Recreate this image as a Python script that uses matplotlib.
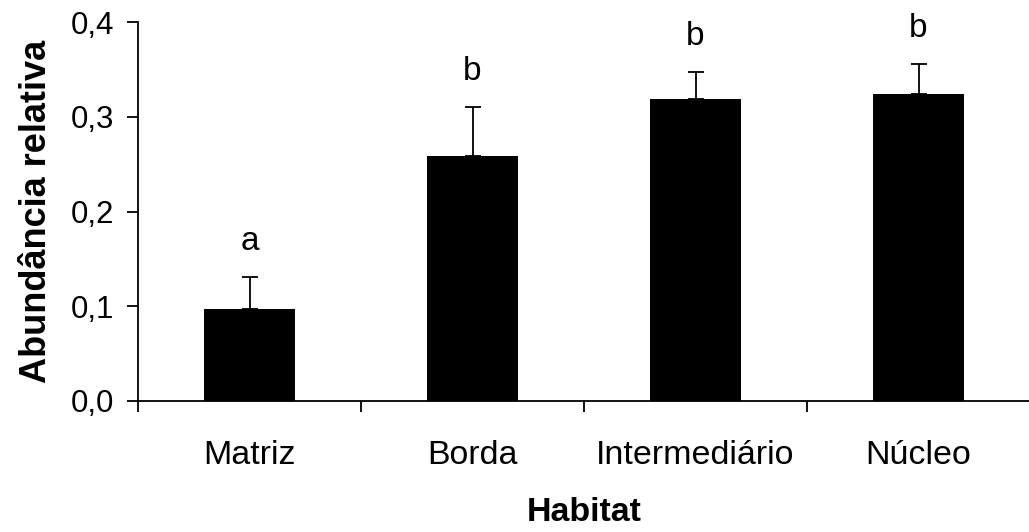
import matplotlib
matplotlib.use("Agg")
import matplotlib.pyplot as plt
import numpy as np

# data
habitats = ["Matriz", "Borda", "Intermediário", "Núcleo"]
abundancia = [0.097, 0.259, 0.319, 0.324]
erro = [0.034, 0.051, 0.028, 0.032]
letras = ["a", "b", "b", "b"]
yticks = [0.0, 0.1, 0.2, 0.3, 0.4]

plt.rcParams['font.family'] = ['Liberation Sans', 'DejaVu Sans']

fig = plt.figure(figsize=(10.29, 5.32), dpi=100)
ax = fig.add_axes([138/1029, 131/532, 892/1029, 379/532])

pos = np.arange(len(habitats)) + 0.5
ax.bar(pos, abundancia, width=0.41, color="black", zorder=2)
ax.errorbar(pos, abundancia, yerr=[np.zeros(len(erro)), erro], fmt="none",
            ecolor="black", elinewidth=1.3, capsize=6, capthick=1.3, zorder=1)

for x, v, e, l in zip(pos, abundancia, erro, letras):
    ax.text(x, v + e + 0.021, l, ha="center", va="bottom", fontsize=24)

ax.set_xlim(0, 4)
ax.set_ylim(0, 0.4)
ax.set_yticks(yticks)
ax.set_yticklabels([f"{t:.1f}".replace(".", ",") for t in yticks], fontsize=22.5)

# boundary ticks, labels at the centre
ax.set_xticks([0, 1, 2, 3])
ax.set_xticklabels([])
ax.set_xticks(pos, minor=True)
ax.set_xticklabels(habitats, minor=True, fontsize=24.5)
ax.tick_params(axis="x", which="major", length=8, width=1.3, direction="out")
ax.tick_params(axis="x", which="minor", length=0, pad=28)
ax.tick_params(axis="y", length=8, width=1.3, pad=9)

for s in ["top", "right"]:
    ax.spines[s].set_visible(False)
for s in ["left", "bottom"]:
    ax.spines[s].set_linewidth(1.3)
ax.spines["bottom"].set_clip_on(False)

ax.set_xlabel("Habitat", fontsize=24.5, fontweight="bold", labelpad=19)
ax.set_ylabel("Abundância relativa", fontsize=26, fontweight="bold", labelpad=12)

fig.savefig("out.png", dpi=100)
